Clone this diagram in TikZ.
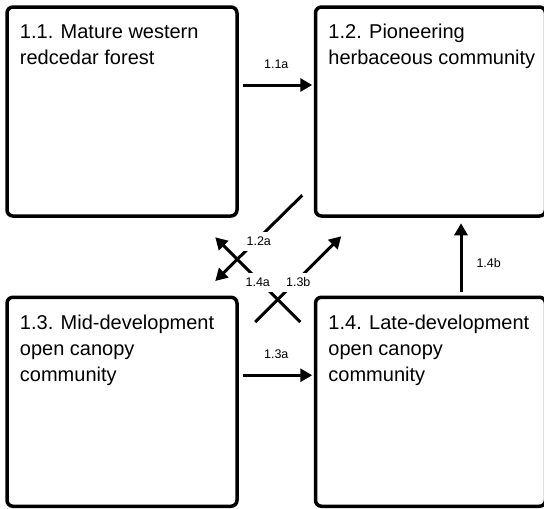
\documentclass[tikz,border=0pt]{standalone}
\usepackage{fontspec}
\setmainfont{Liberation Sans}
\usetikzlibrary{arrows.meta}

\begin{document}
\begin{tikzpicture}[x=1pt, y=-1pt]
    \tikzstyle box=[draw, line width=3.5pt, rounded corners=6pt,
      minimum width=230pt, minimum height=209pt, inner sep=0pt]
    \tikzstyle boxtext=[anchor=north west, align=left, inner sep=0pt,
      font=\fontsize{20}{26}\selectfont]
    \tikzstyle transition=[line width=3pt,
      -{Triangle[length=12pt,width=13pt]}]
    \tikzstyle tlabel=[font=\fontsize{12.5}{15}\selectfont, inner sep=0pt]
    \useasboundingbox (0,0) rectangle (544,509);
    % the four community boxes
    \node[box] (b11) at (122,111.5) {};
    \node[box] (b12) at (430.5,111.5) {};
    \node[box] (b13) at (122,401.75) {};
    \node[box] (b14) at (430.5,401.75) {};
    \node[boxtext] (t11) at ([shift={(14.5,19)}]b11.north west)
      {1.1. Mature western\\redcedar forest};
    \node[boxtext] (t12) at ([shift={(14.5,19)}]b12.north west)
      {1.2. Pioneering\\herbaceous community};
    \node[boxtext] (t13) at ([shift={(14.5,19)}]b13.north west)
      {1.3. Mid-development\\open canopy\\community};
    \node[boxtext] (t14) at ([shift={(14.5,19)}]b14.north west)
      {1.4. Late-development\\open canopy\\community};
    % straight transitions
    \draw[transition, shorten <=4.5pt, shorten >=1.5pt]
      ([shift={(0,-26.5)}]b11.east) -- ([shift={(0,-26.5)}]b12.west)
      node[tlabel, midway, above=15pt] (l11a) {1.1a};
    \draw[transition, shorten <=4.5pt, shorten >=1.5pt]
      ([shift={(0,-26.5)}]b13.east) -- ([shift={(0,-26.5)}]b14.west)
      node[tlabel, midway, above=15pt] (l13a) {1.3a};
    \draw[transition, shorten <=3.5pt, shorten >=5.5pt]
      ([shift={(30.5,0)}]b14.north) -- ([shift={(30.5,0)}]b12.south)
      node[tlabel, pos=0.42, right=14pt] (l14b) {1.4b};
    % diagonal transitions
    \draw[transition]
      ([shift={(-11.5,-22.5)}]b12.south west) -- ([shift={(-23.5,-14.5)}]b13.north east)
      node[tlabel, midway, fill=white, inner sep=5pt, yshift=-3pt] (l12a) {1.2a};
    \draw[transition]
      ([shift={(-13.5,26.5)}]b14.north west) -- ([shift={(-23.5,19.5)}]b11.south east)
      node[tlabel, midway, fill=white, inner sep=5pt, yshift=-3pt] (l14a) {1.4a};
    \draw[transition]
      ([shift={(16.5,26.5)}]b13.north east) -- ([shift={(27.5,18.5)}]b12.south west)
      node[tlabel, midway, fill=white, inner sep=5pt, yshift=-3pt] (l13b) {1.3b};
\end{tikzpicture}
\end{document}
